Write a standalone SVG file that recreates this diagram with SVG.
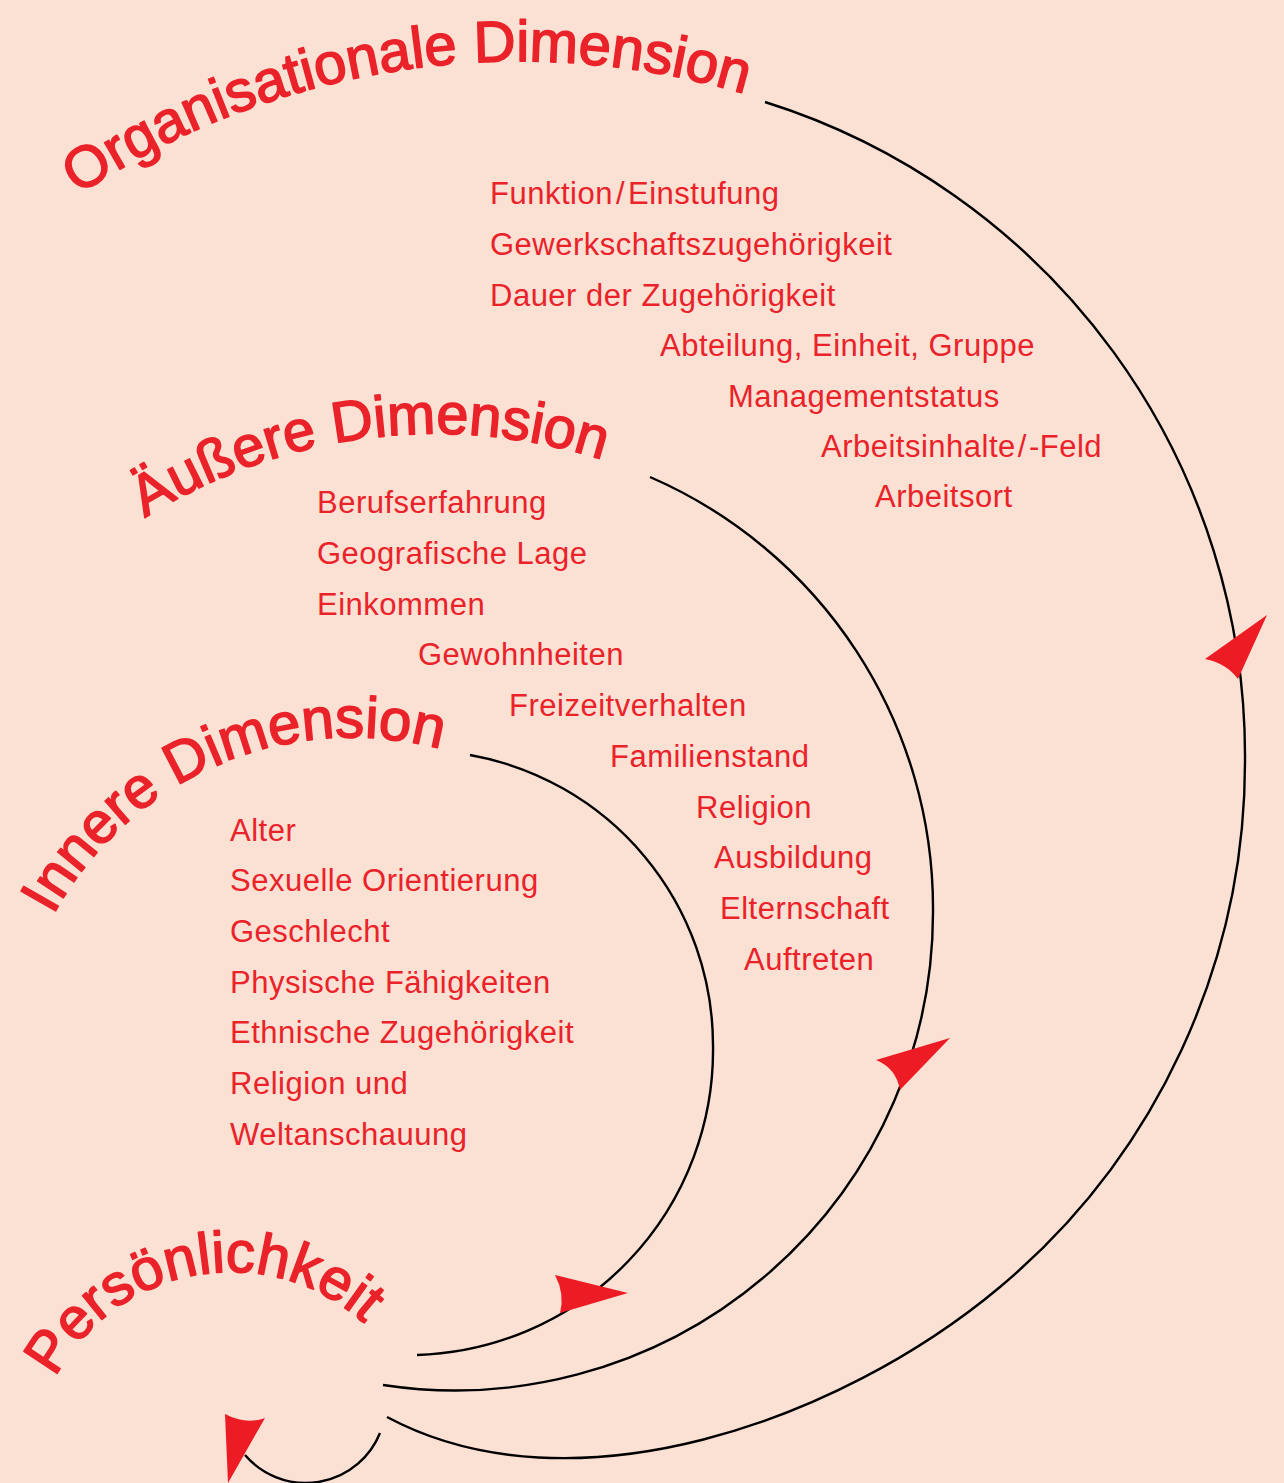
<svg xmlns="http://www.w3.org/2000/svg" width="1284" height="1483" viewBox="0 0 1284 1483">
<defs>
<style>
.bg{fill:#FBE0D4}
.title{font-family:"Liberation Sans",Arial,sans-serif;fill:#EA2229;stroke:#EA2229;stroke-width:1.6;stroke-linejoin:round}
.item{font-family:"Liberation Sans",Arial,sans-serif;font-size:31px;letter-spacing:0.5px;fill:#EA2229}
.conn{fill:none;stroke:#000;stroke-width:2.4}
.head{fill:#ED1C24}
</style>
<path id="pOrg" d="M 78.3 195.2 A 794 794 0 0 1 817 119"/>
<path id="pAus" d="M 145 518 A 546 546 0 0 1 667 485"/>
<path id="pInn" d="M 53.2 915.5 A 340.6 340.6 0 0 1 496.5 769.3"/>
<path id="pPer" d="M 55.3 1377.6 A 199 199 0 0 1 403.3 1371.5"/>
</defs>
<rect class="bg" x="0" y="0" width="1284" height="1483"/>

<g id="connectors">
<path class="conn" d="M 765 102 A 685 685 0 0 1 1245 760 A 685 685 0 0 1 1000 1287 C 839 1422 572 1516 387 1417"/>
<path class="conn" d="M 650 477 A 470 470 0 0 1 933 910 A 478 478 0 0 1 383 1385"/>
<path class="conn" d="M 470 755 A 295 295 0 0 1 713 1045 A 305 305 0 0 1 417 1355"/>
<path class="conn" d="M 380 1433 A 80 80 0 0 1 245 1455"/>
<path class="head" d="M 1267 615 L 1205 659 Q 1226 663 1238 679 Z"/>
<path class="head" d="M 950 1038 L 876 1060 Q 896 1068 900 1090 Z"/>
<path class="head" d="M 628 1293 L 555 1275 Q 565 1294 560 1313 Z"/>
<path class="head" d="M 228 1483 L 225 1414 Q 246 1425 265 1418 Z"/>
</g>

<g id="organisationale-dimension">
<text class="title" font-size="58"><textPath href="#pOrg">Organisationale Dimension</textPath></text>
<text class="item" x="490" y="204">Funktion<tspan dx="3">/</tspan><tspan dx="3">Einstufung</tspan></text>
<text class="item" x="490" y="255">Gewerkschaftszugehörigkeit</text>
<text class="item" x="490" y="306">Dauer der Zugehörigkeit</text>
<text class="item" x="660" y="356">Abteilung, Einheit, Gruppe</text>
<text class="item" x="728" y="407">Managementstatus</text>
<text class="item" x="821" y="457">Arbeitsinhalte<tspan dx="2">/</tspan><tspan dx="2">-Feld</tspan></text>
<text class="item" x="875" y="507">Arbeitsort</text>
</g>

<g id="aeussere-dimension">
<text class="title" font-size="57.5"><textPath href="#pAus">Äußere Dimension</textPath></text>
<text class="item" x="317" y="513">Berufserfahrung</text>
<text class="item" x="317" y="564">Geografische Lage</text>
<text class="item" x="317" y="615">Einkommen</text>
<text class="item" x="418" y="665">Gewohnheiten</text>
<text class="item" x="509" y="716">Freizeitverhalten</text>
<text class="item" x="610" y="767">Familienstand</text>
<text class="item" x="696" y="818">Religion</text>
<text class="item" x="714" y="868">Ausbildung</text>
<text class="item" x="720" y="919">Elternschaft</text>
<text class="item" x="744" y="970">Auftreten</text>
</g>

<g id="innere-dimension">
<text class="title" font-size="58"><textPath href="#pInn">Innere Dimension</textPath></text>
<text class="item" x="230" y="841">Alter</text>
<text class="item" x="230" y="891">Sexuelle Orientierung</text>
<text class="item" x="230" y="942">Geschlecht</text>
<text class="item" x="230" y="993">Physische Fähigkeiten</text>
<text class="item" x="230" y="1043">Ethnische Zugehörigkeit</text>
<text class="item" x="230" y="1094">Religion und</text>
<text class="item" x="230" y="1145">Weltanschauung</text>
</g>

<g id="persoenlichkeit">
<text class="title" font-size="58"><textPath href="#pPer">Persönlichkeit</textPath></text>
</g>
</svg>
